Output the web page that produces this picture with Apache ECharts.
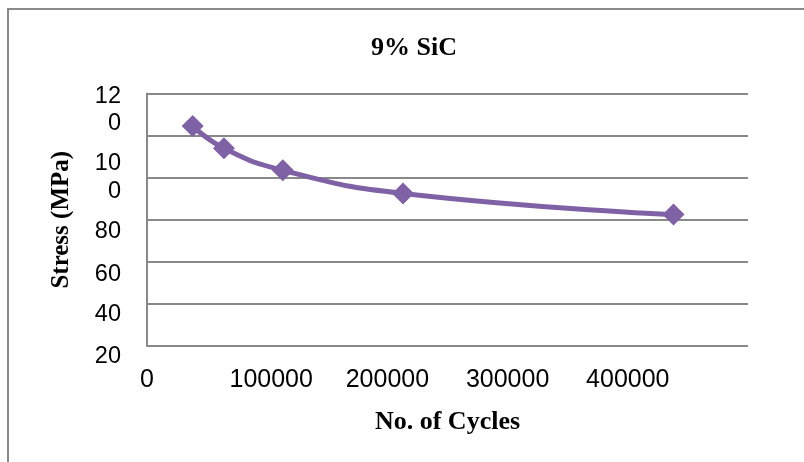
<!DOCTYPE html>
<html>
<head>
<meta charset="utf-8">
<script src="https://cdn.jsdelivr.net/npm/echarts@6/dist/echarts.min.js"></script>
<style>
  html, body { margin: 0; padding: 0; background: #ffffff; }
  #chart { width: 804px; height: 462px; }
</style>
</head>
<body>
<div id="chart"></div>
<script>
// Fatigue test results for the 9% SiC composite
const cycles = [38000, 64000, 113000, 213000, 438000];
const stress = [124.5, 114, 103.5, 92.5, 82.5];

// Axis ticks and their printed labels
const xTickValues = [0, 100000, 200000, 300000, 400000];
const xTickLabels = ['0', '100000', '200000', '300000', '400000'];
const yTickValues = [20, 40, 60, 80, 100, 120];
const yTickLabels = ['20', '40', '60', '80', '10\n0', '12\n0'];

const chartTitle = '9% SiC';
const xName = 'No. of Cycles';
const yName = 'Stress (MPa)';

const serif = '"Liberation Serif", "Times New Roman", serif';
const sans = '"Liberation Sans", Arial, sans-serif';
const gridColor = '#898989';
const purple = '#7f62a6';

// Layout of each y label block: spacer line below the text shifts wrapped
// labels upward, a spacer line above single labels shifts them downward.
const yLabelLayout = {
  20: { before: 22 }, 40: { before: 22 }, 60: { before: 26 }, 80: { before: 24 },
  100: { line: 28, after: 1 }, 120: { line: 27, after: 52 }
};

function yLabel(v) {
  const i = yTickValues.indexOf(v);
  if (i < 0) return '';
  const lay = yLabelLayout[v];
  const parts = yTickLabels[i].split('\n');
  if (parts.length === 1) {
    return '{g' + lay.before + '| }\n{t|' + parts[0] + '}';
  }
  return parts.map(p => '{t' + lay.line + '|' + p + '}').join('\n') + '\n{g' + lay.after + '| }';
}

const rich = {
  t: { fontFamily: sans, fontSize: 23.5, color: '#000', lineHeight: 26 },
  t27: { fontFamily: sans, fontSize: 23.5, color: '#000', lineHeight: 27 },
  t28: { fontFamily: sans, fontSize: 23.5, color: '#000', lineHeight: 28 }
};
[1, 22, 24, 26, 52].forEach(h => { rich['g' + h] = { fontSize: 1, lineHeight: h }; });

// x labels: the first non-zero label sits a little right of its tick
const xRich = {
  n: { fontFamily: sans, fontSize: 25, color: '#000' },
  r: { fontFamily: sans, fontSize: 25, color: '#000', padding: [0, 0, 0, 8] }
};

const chart = echarts.init(document.getElementById('chart'), null, { renderer: 'canvas' });
chart.setOption({
  backgroundColor: '#ffffff',
  animation: false,
  title: {
    text: chartTitle,
    left: 409,
    top: 30,
    textAlign: 'center',
    textStyle: { fontFamily: serif, fontWeight: 'bold', fontSize: 26, color: '#000' }
  },
  graphic: [{
    type: 'rect',
    shape: { x: 8, y: 9, width: 812, height: 470 },
    style: { fill: 'none', stroke: '#8a8a8a', lineWidth: 2 },
    silent: true
  }],
  grid: { left: 147, right: 56, top: 93.5, bottom: 116, containLabel: false },
  xAxis: {
    type: 'value',
    min: 0,
    max: 500000,
    interval: 100000,
    name: xName,
    nameLocation: 'middle',
    nameGap: 63,
    nameTextStyle: { fontFamily: serif, fontWeight: 'bold', fontSize: 26, color: '#000' },
    axisLine: { show: false },
    axisTick: { show: false },
    splitLine: { show: false },
    axisLabel: {
      margin: 22,
      fontFamily: sans,
      fontSize: 25,
      color: '#000',
      rich: xRich,
      formatter: v => {
        const i = xTickValues.indexOf(v);
        if (i < 0) return '';
        return (i === 1 ? '{r|' : '{n|') + xTickLabels[i] + '}';
      }
    }
  },
  yAxis: {
    type: 'value',
    min: 20,
    max: 140,
    interval: 20,
    name: yName,
    nameLocation: 'middle',
    nameRotate: 90,
    nameGap: 73,
    nameTextStyle: { fontFamily: serif, fontWeight: 'bold', fontSize: 25, color: '#000' },
    axisLine: { show: true, lineStyle: { color: gridColor, width: 2 } },
    axisTick: { show: false },
    splitLine: { show: true, lineStyle: { color: gridColor, width: 2 } },
    axisLabel: { margin: 26, formatter: yLabel, rich: rich }
  },
  series: [{
    type: 'line',
    data: cycles.map((c, i) => [c, stress[i]]),
    smooth: 0.5,
    symbol: 'diamond',
    symbolSize: 22,
    lineStyle: { color: purple, width: 5 },
    itemStyle: { color: purple },
    z: 3
  }]
});
</script>
</body>
</html>
